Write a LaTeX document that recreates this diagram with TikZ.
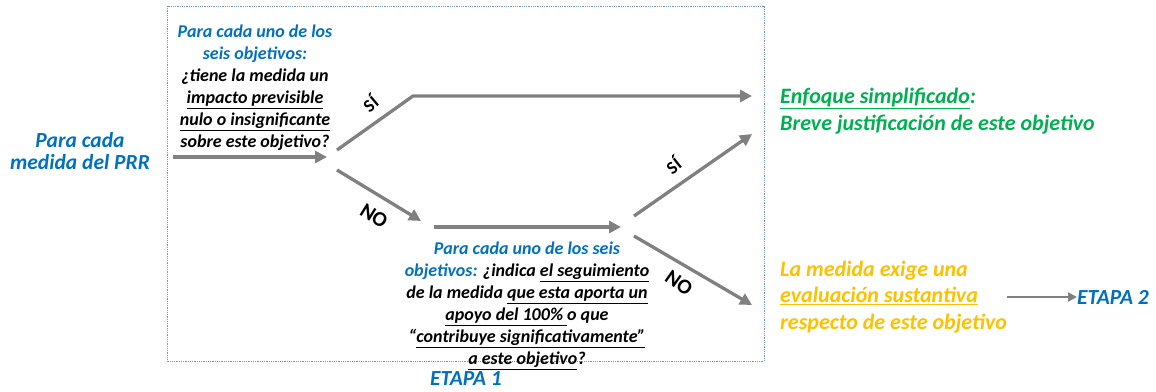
\documentclass[tikz,border=0pt]{standalone}
\usepackage{fontspec}
\setmainfont{Carlito}
\usepackage{tikz}
\usetikzlibrary{arrows.meta}

\definecolor{etapablue}{RGB}{0,112,192}
\definecolor{simplegreen}{RGB}{0,176,80}
\definecolor{evalorange}{RGB}{255,192,0}
\definecolor{flowgray}{RGB}{128,128,128}
\definecolor{frameblue}{RGB}{110,150,200}

\tikzset{
  flow/.style={draw=flowgray, line width=3.3pt, -{Triangle[length=12pt,width=12pt]}},
  txt/.style={font=\fontsize{18}{22}\selectfont\bfseries\itshape, align=center, inner sep=0pt},
  bigtxt/.style={txt, font=\fontsize{21.5}{22}\selectfont\bfseries\itshape},
  sidetxt/.style={txt, font=\fontsize{22}{26.5}\selectfont\bfseries\itshape, anchor=west, align=left},
  branch/.style={font=\fontsize{18}{20}\selectfont\bfseries, inner sep=0pt},
}

\begin{document}
\begin{tikzpicture}[x=1pt, y=-1pt]
  \useasboundingbox (0,0) rectangle (1156,391);
  \draw[frameblue, densely dotted, line width=0.8pt] (167,6) rectangle (764,361);

  % texts
  \node[bigtxt, text=etapablue] (prr) at (80,151) {Para cada\\medida del PRR};
  \node[txt] (q1) at (255,88) {\textcolor{etapablue}{Para cada uno de los}\\\textcolor{etapablue}{seis objetivos:}\\¿tiene la medida un\\\underline{impacto previsible}\\\underline{nulo o insignificante}\\sobre este objetivo?};
  \node[txt] (q2) at (527,306) {\textcolor{etapablue}{Para cada uno de los seis}\\\textcolor{etapablue}{objetivos:} ¿indica \underline{el seguimiento}\\de la medida \underline{que esta aporta un}\\\underline{apoyo del 100\% }o que\\“\underline{contribuye significativamente”}\\\underline{a este objetivo}?};
  \node[bigtxt, text=etapablue] (etapa1) at (466,379) {ETAPA 1};
  \node[sidetxt, text=simplegreen] (simple) at (780,111) {\underline{Enfoque simplificado}:\\Breve justificación de este objetivo};
  \node[sidetxt, text=evalorange] (eval) at (780,297) {La medida exige una\\\underline{evaluación sustantiva}\\respecto de este objetivo};
  \node[bigtxt, text=etapablue, anchor=west] (etapa2) at (1077,297) {ETAPA 2};

  % branch points
  \coordinate (in) at (173,157);
  \coordinate (d1) at (327,157);
  \coordinate (si1) at (337,150);
  \coordinate (si1k) at (413,96);
  \coordinate (si1e) at (752,96);
  \coordinate (no1) at (337,170);
  \coordinate (no1e) at (421,221);
  \coordinate (mid) at (434,227);
  \coordinate (d2) at (621,227);
  \coordinate (si2) at (634,216);
  \coordinate (si2e) at (752,134);
  \coordinate (no2) at (634,236);
  \coordinate (no2e) at (752,305);
  \coordinate (out) at (1007,297);

  \draw[flow] (in) -- (d1);
  \draw[flow] (si1) -- (si1k) -- (si1e);
  \draw[flow] (no1) -- (no1e);
  \draw[flow] (mid) -- (d2);
  \draw[flow] (si2) -- (si2e);
  \draw[flow] (no2) -- (no2e);
  \draw[flow, line width=2.5pt, -{Triangle[length=9pt,width=9pt]}] (out) -- (etapa2.west);

  \node[branch, rotate=40] (s1) at (370,103) {SÍ};
  \node[branch, rotate=-32, font=\fontsize{21}{22}\selectfont\bfseries] (n1) at (374,216) {NO};
  \node[branch, rotate=38] (s2) at (673,165) {SÍ};
  \node[branch, rotate=-35, font=\fontsize{21}{22}\selectfont\bfseries] (n2) at (679,283) {NO};
\end{tikzpicture}
\end{document}
